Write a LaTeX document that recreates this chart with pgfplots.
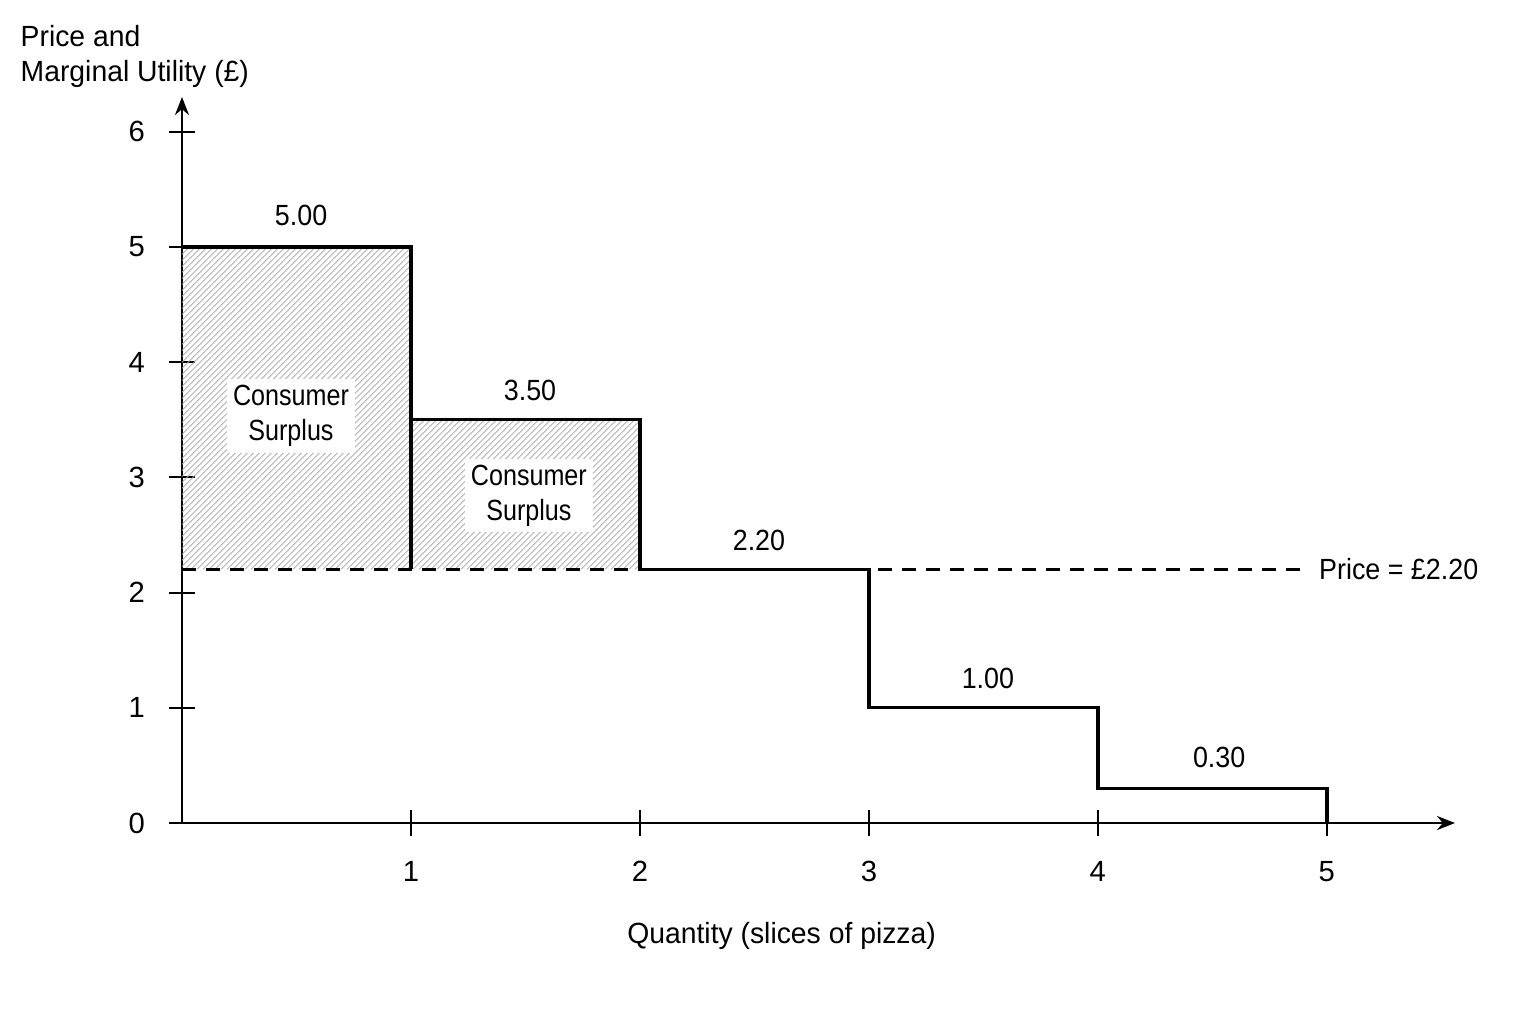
\documentclass[border=0pt]{standalone}
\usepackage{fontspec}
\setmainfont{Liberation Sans}[FakeStretch=0.97]
\newfontfamily\tickfont{Liberation Sans}
\newfontfamily\valfont{Liberation Sans}[FakeStretch=0.92]
\newfontfamily\csfont{Liberation Sans}[FakeStretch=0.86]
\usepackage{pgfplots}
\pgfplotsset{compat=1.18}
\usetikzlibrary{patterns,arrows.meta}

\begin{document}
\fontsize{14.6}{17.5}\selectfont
\begin{tikzpicture}
\begin{axis}[
  at={(0,0)}, anchor=south west,
  scale only axis,
  width=636.5pt, height=363pt,
  xmin=0, xmax=5.56, ymin=0, ymax=6.3,
  axis lines=left,
  axis line style={line width=1.4pt, -{Stealth[length=9pt,width=7pt]}},
  xtick={1,2,3,4,5}, ytick={0,1,2,3,4,5,6},
  tick align=center,
  major tick length=13pt,
  tick style={black, line width=1pt},
  /pgf/number format/assume math mode=true,
  tick label style={font=\tickfont\fontsize{14.6}{17.5}\selectfont},
  xticklabel style={yshift=-7.5pt},
  yticklabel style={xshift=-7pt},
  clip=false,
]
  % consumer surplus area
  \addplot[draw=none, pattern=north east lines, pattern color=gray!70]
    coordinates {(0,2.2)(0,5)(1,5)(1,3.5)(2,3.5)(2,2.2)} -- cycle;
  % price line
  \addplot[line width=1.3pt, dash pattern=on 7pt off 5pt]
    coordinates {(0,2.2)(4.9,2.2)};
  % marginal utility steps
  \addplot[line width=1.7pt]
    coordinates {(0,5)(1,5)(1,3.5)(2,3.5)(2,2.2)(3,2.2)(3,1)(4,1)(4,0.3)(5,0.3)(5,0)};
  \addplot[line width=1.7pt] coordinates {(1,3.5)(1,2.2)};

  \node[font=\valfont] at (axis cs:0.52,5.27) {5.00};
  \node[font=\valfont] at (axis cs:1.52,3.755) {3.50};
  \node[font=\valfont] at (axis cs:2.52,2.45) {2.20};
  \node[font=\valfont] at (axis cs:3.52,1.256) {1.00};
  \node[font=\valfont] at (axis cs:4.53,0.57) {0.30};
  \node[font=\valfont, anchor=west, inner sep=0pt] at (axis cs:4.965,2.2) {Price = £2.20};

  \node[font=\csfont, fill=white, align=center, inner sep=3pt] at (axis cs:0.476,3.53) {Consumer\\Surplus};
  \node[font=\csfont, fill=white, align=center, inner sep=3pt] at (axis cs:1.515,2.84) {Consumer\\Surplus};

  \node[anchor=north west, align=left, inner sep=0pt] at (axis description cs:-0.127,1.099)
    {Price and\\Marginal Utility (£)};
  \node at (axis description cs:0.471,-0.155) {Quantity (slices of pizza)};
\end{axis}
\pgfresetboundingbox
\path[use as bounding box] (-91pt,-100.7pt) rectangle (677pt,411.5pt);
\end{tikzpicture}
\end{document}
